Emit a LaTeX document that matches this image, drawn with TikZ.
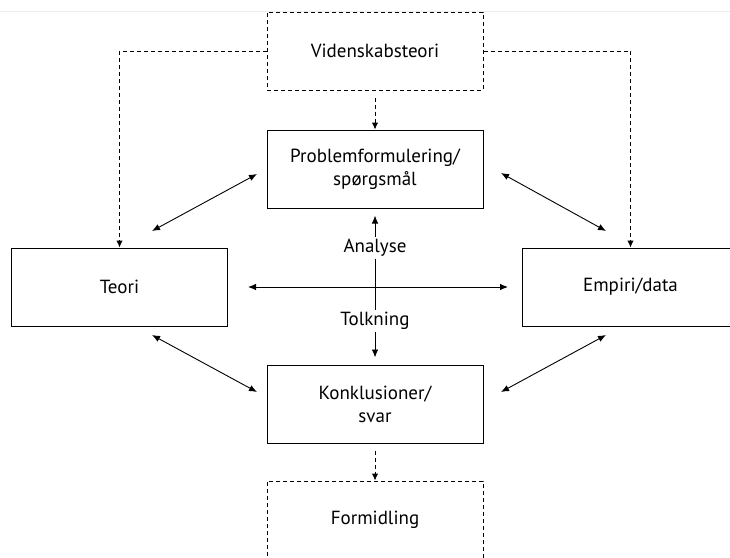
\documentclass[tikz,border=0pt]{standalone}
\usepackage{fontspec}
\setmainfont{PT Sans}
\usetikzlibrary{arrows.meta}
\begin{document}
\begin{tikzpicture}[x=1pt,y=-1pt,
  box/.style={draw, line width=1pt, minimum width=216pt, minimum height=78pt, inner sep=0pt, align=center, font=\fontsize{19}{23}\selectfont},
  dbox/.style={box, dashed, line width=1pt, dash pattern=on 4pt off 3pt},
  lbl/.style={inner sep=2pt, font=\fontsize{19}{23}\selectfont},
  con/.style={line width=0.9pt, -{Latex[length=8pt,width=6.5pt]}},
  bicon/.style={line width=0.9pt, {Latex[length=8pt,width=6.5pt]}-{Latex[length=8pt,width=6.5pt]}},
  dcon/.style={line width=1pt, dash pattern=on 4pt off 3pt, -{Latex[length=7pt,width=6.5pt]}}
]
\useasboundingbox (0,0) rectangle (730,557);
\clip (0,0) rectangle (730,557);
\fill[white] (0,0) rectangle (730,557);
\draw[gray!15, line width=1pt] (0,11) -- (730,11);

\node[dbox] (vid) at (375,51) {Videnskabsteori};
\node[box] (prob) at (375,169) {Problemformulering/\\spørgsmål};
\node[box] (teori) at (119.5,287) {Teori};
\node[box] (emp) at (630.5,287) {Empiri/data};
\node[box] (konk) at (375,404) {Konklusioner/\\svar};
\node[dbox] (form) at (375,520) {Formidling};

\node[lbl] (ana) at (375,248) {Analyse};
\node[lbl] (tolk) at (375,321) {Tolkning};

% dashed connectors
\draw[dcon] (vid.west) -| (teori.north);
\draw[dcon] (vid.east) -| (emp.north);
\draw[dcon, shorten <=7pt] (vid.south) -- (prob.north);
\draw[dcon, shorten <=7pt] (konk.south) -- (form.north);

% center
\draw[con, shorten >=7pt] (ana.north) -- (prob.south);
\draw[line width=0.9pt] (ana.south) -- (tolk.north);
\draw[con, shorten >=7pt] (tolk.south) -- (konk.north);
\draw[bicon, shorten <=20pt, shorten >=14pt] (teori.east) -- (emp.west);

% diagonals
\coordinate (t1) at (152,231);
\coordinate (p1) at (257,174);
\coordinate (p2) at (501,173);
\coordinate (e1) at (606,231);
\coordinate (t2) at (152,335);
\coordinate (k1) at (257,392);
\coordinate (e2) at (606,335);
\coordinate (k2) at (501,392);
\draw[bicon] (t1) -- (p1);
\draw[bicon] (p2) -- (e1);
\draw[bicon] (t2) -- (k1);
\draw[bicon] (e2) -- (k2);
\end{tikzpicture}
\end{document}
